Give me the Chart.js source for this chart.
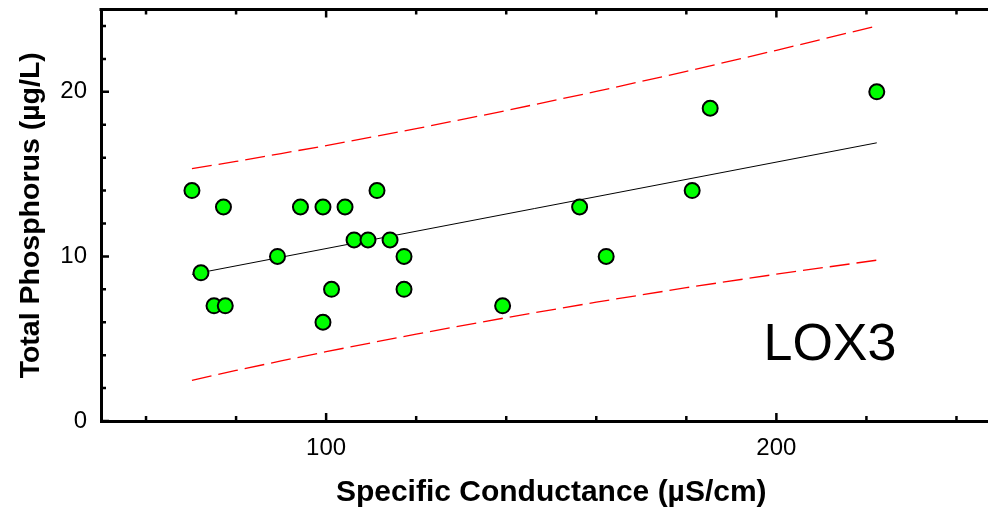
<!DOCTYPE html>
<html>
<head>
<meta charset="utf-8">
<title>LOX3 - Total Phosphorus vs Specific Conductance</title>
<script src="https://cdn.jsdelivr.net/npm/chart.js@4.4.1/dist/chart.umd.min.js"></script>
<style>
    html, body { margin: 0; padding: 0; background: #fff; overflow: hidden; }
    canvas { display: block; }
</style>
</head>
<body>
<canvas id="lox3Chart" width="1011" height="508"></canvas>
<script>
// Site LOX3 samples
const conductance = [70.2, 72.2, 75.1, 77.6, 77.2, 89.2, 94.3, 99.3, 99.3, 101.2, 104.2, 106.2, 109.3, 111.3, 114.2, 117.3, 117.3, 139.2, 156.3, 162.2, 181.3, 185.3, 222.3];
const phosphorus = [14, 9, 7, 7, 13, 10, 13, 13, 6, 8, 13, 11, 11, 14, 11, 10, 8, 7, 13, 10, 14, 19, 20];

// Fitted line and its prediction limits
const fitX = [70.2, 222.3];
const fitY = [8.91, 16.9];
const bandX = [70.2, 80, 90, 100, 110, 120, 140, 160, 180, 200, 222.3];
const upperY = [15.33, 15.77, 16.25, 16.73, 17.24, 17.76, 18.86, 20.02, 21.24, 22.52, 24.0];
const lowerY = [2.47, 3.07, 3.65, 4.21, 4.75, 5.28, 6.28, 7.22, 8.10, 8.92, 9.77];

// Axis ticks (only some carry a label)
const xTickValues = [60, 80, 100, 120, 140, 160, 180, 200, 220, 240];
const xTickLabels = [100, 200];
const yTickValues = [0, 2, 4, 6, 8, 10, 12, 14, 16, 18, 20, 22, 24];
const yTickLabels = [0, 10, 20];

const siteLabel = 'LOX3';
const FONT = "'Liberation Sans', Arial, Helvetica, sans-serif";

const toPoints = (xs, ys) => xs.map((x, i) => ({ x: x, y: ys[i] }));

// ticks pointing into the plot, plus the top frame line
const frameTicks = {
    id: 'frameTicks',
    afterDraw(chart) {
        const { ctx, chartArea: area, scales } = chart;
        ctx.save();
        ctx.strokeStyle = '#000';
        ctx.lineWidth = 2.5;
        ctx.beginPath();
        scales.x.ticks.forEach(t => {
            const px = scales.x.getPixelForValue(t.value);
            const len = xTickLabels.includes(t.value) ? 8 : 5;
            ctx.moveTo(px, area.bottom);
            ctx.lineTo(px, area.bottom - len);
            ctx.moveTo(px, area.top);
            ctx.lineTo(px, area.top + len);
        });
        scales.y.ticks.forEach(t => {
            const py = scales.y.getPixelForValue(t.value);
            const len = yTickLabels.includes(t.value) ? 8 : 5;
            ctx.moveTo(area.left, py);
            ctx.lineTo(area.left + len, py);
        });
        ctx.stroke();

        ctx.lineWidth = 3;
        ctx.beginPath();
        ctx.moveTo(area.left - 1.5, area.top);
        ctx.lineTo(area.right, area.top);
        ctx.stroke();

        // site name inside the plot
        ctx.fillStyle = '#000';
        ctx.font = '52px ' + FONT;
        ctx.textAlign = 'center';
        ctx.textBaseline = 'alphabetic';
        ctx.fillText(siteLabel, scales.x.getPixelForValue(211.9), scales.y.getPixelForValue(3.7));
        ctx.restore();
    }
};

new Chart(document.getElementById('lox3Chart'), {
    type: 'scatter',
    data: {
        datasets: [
            {
                label: 'Samples',
                data: toPoints(conductance, phosphorus),
                backgroundColor: '#00ff00',
                borderColor: '#000',
                borderWidth: 2,
                pointRadius: 7.5,
                pointHoverRadius: 7.5
            },
            {
                type: 'line',
                label: 'Fit',
                data: toPoints(fitX, fitY),
                borderColor: '#000',
                borderWidth: 1,
                pointRadius: 0,
                fill: false
            },
            {
                type: 'line',
                label: 'Upper limit',
                data: toPoints(bandX, upperY),
                borderColor: '#ff0000',
                borderWidth: 1.3,
                borderDash: [20, 7],
                pointRadius: 0,
                fill: false
            },
            {
                type: 'line',
                label: 'Lower limit',
                data: toPoints(bandX, lowerY),
                borderColor: '#ff0000',
                borderWidth: 1.3,
                borderDash: [20, 7],
                pointRadius: 0,
                fill: false
            }
        ]
    },
    options: {
        responsive: false,
        animation: false,
        layout: { padding: { top: 7, left: 0, right: 0, bottom: 0 } },
        plugins: {
            legend: { display: false },
            tooltip: { enabled: false }
        },
        scales: {
            x: {
                type: 'linear',
                min: 50,
                max: 250,
                grid: { display: false, drawTicks: false },
                border: { display: true, color: '#000', width: 3 },
                afterBuildTicks: scale => { scale.ticks = xTickValues.map(v => ({ value: v })); },
                afterFit: scale => { scale.height = 87; scale.paddingLeft = 0; scale.paddingRight = 0; },
                ticks: {
                    autoSkip: false,
                    maxRotation: 0,
                    padding: 13,
                    color: '#000',
                    font: { family: FONT, size: 24 },
                    callback: v => xTickLabels.includes(v) ? String(v) : ''
                },
                title: {
                    display: true,
                    text: 'Specific Conductance (µS/cm)',
                    color: '#000',
                    font: { family: FONT, size: 30, weight: 'bold' },
                    padding: { top: 0, bottom: -3 }
                }
            },
            y: {
                type: 'linear',
                min: 0,
                max: 25,
                grid: { display: false, drawTicks: false },
                border: { display: true, color: '#000', width: 3 },
                afterBuildTicks: scale => { scale.ticks = yTickValues.map(v => ({ value: v })); },
                afterFit: scale => { scale.width = 101; scale.paddingTop = 0; scale.paddingBottom = 0; },
                ticks: {
                    autoSkip: false,
                    padding: 14,
                    color: '#000',
                    font: { family: FONT, size: 24 },
                    callback: v => yTickLabels.includes(v) ? String(v) : ''
                },
                title: {
                    display: true,
                    text: 'Total Phosphorus (µg/L)',
                    color: '#000',
                    font: { family: FONT, size: 28.5, weight: 'bold' },
                    padding: { top: 14, bottom: 0 }
                }
            }
        }
    },
    plugins: [frameTicks]
});
</script>
</body>
</html>
